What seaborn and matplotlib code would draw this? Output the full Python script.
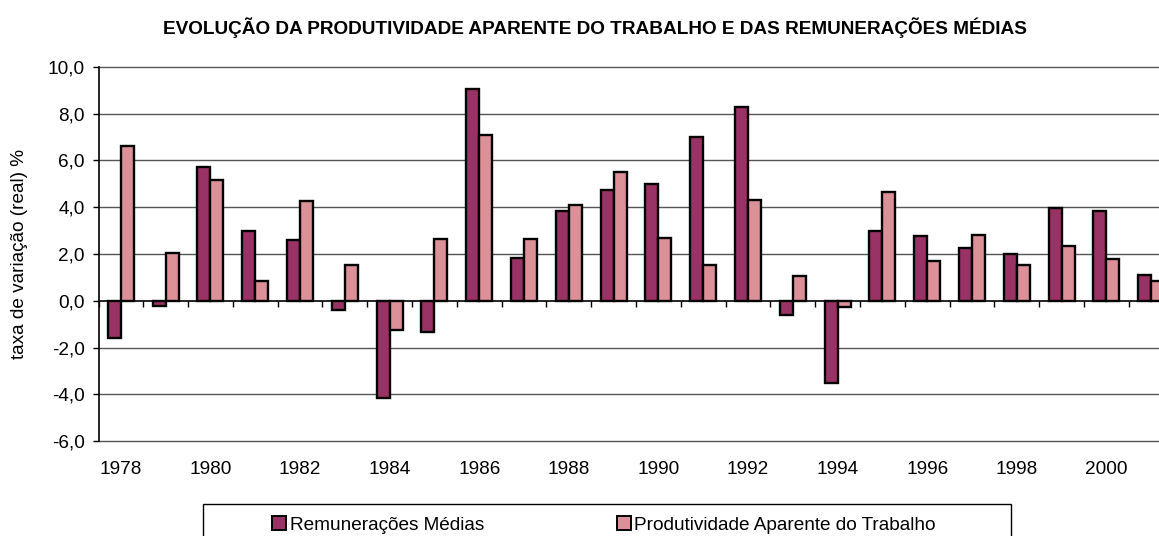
import numpy as np
import pandas as pd
import seaborn as sns
import matplotlib
matplotlib.use('Agg')
import matplotlib.pyplot as plt
from matplotlib.patches import Patch, Rectangle
from matplotlib.ticker import FuncFormatter

years = list(range(1978, 2002))
remuneracoes = [-1.6, -0.2, 5.7, 3.0, 2.6, -0.4, -4.15, -1.35, 9.05, 1.85, 3.85, 4.75,
                5.0, 7.0, 8.3, -0.6, -3.5, 3.0, 2.75, 2.25, 2.0, 3.95, 3.85, 1.1]
produtividade = [6.6, 2.05, 5.15, 0.85, 4.25, 1.55, -1.25, 2.65, 7.1, 2.65, 4.1, 5.5,
                 2.7, 1.55, 4.3, 1.05, -0.25, 4.65, 1.7, 2.8, 1.55, 2.35, 1.8, 0.85]
series_names = ['Remunerações Médias', 'Produtividade Aparente do Trabalho']
colors = ['#993366', '#DC9199']

df = pd.DataFrame({
    'ano': years * 2,
    'serie': [series_names[0]] * len(years) + [series_names[1]] * len(years),
    'valor': remuneracoes + produtividade,
})

sns.set_style('white')
plt.rcParams['font.family'] = ['Liberation Sans', 'DejaVu Sans']
for k in ['text.color', 'axes.labelcolor', 'xtick.color', 'ytick.color']:
    plt.rcParams[k] = 'black'

FS = 13.7
W, H = 1159, 536
fig = plt.figure(figsize=(W / 100, H / 100), dpi=100)
# plot area runs past the right edge, as in the original export
ax = fig.add_axes([98.5 / W, 1 - 441.3 / H, 1075 / W, (441.3 - 66.7) / H])

sns.barplot(data=df, x='ano', y='valor', hue='serie', palette=colors, width=0.58,
            saturation=1, edgecolor='black', linewidth=1.7, legend=False, ax=ax, zorder=3)

ax.set_xlim(-0.5, len(years) - 0.5)
ax.set_ylim(-6, 10)
ax.set_yticks(np.arange(-6, 11, 2))
ax.yaxis.set_major_formatter(FuncFormatter(lambda v, p: f'{v:.1f}'.replace('.', ',')))
for v in np.arange(-6, 11, 2):
    if v != 0:
        ax.axhline(v, color='#555555', lw=1.0, zorder=1, clip_on=False)

ax.set_xticks(range(0, len(years), 2))
ax.set_xticklabels([str(y) for y in years[::2]])
ax.tick_params(axis='x', length=0, pad=14, labelsize=FS)
ax.tick_params(axis='y', direction='out', length=4, width=1, pad=6, labelsize=FS, left=True)
ax.set_xlabel('')
ax.set_ylabel('taxa de variação (real) %', fontsize=FS)
ax.yaxis.set_label_coords(-0.066, 0.5)

for s in ['top', 'right', 'bottom']:
    ax.spines[s].set_visible(False)
ax.spines['left'].set_color('black')
ax.spines['left'].set_linewidth(1.2)

# zero axis line with category tick marks
sec = ax.secondary_xaxis(6 / 16)
sec.set_xticks(np.arange(-0.5, len(years), 1))
sec.tick_params(direction='out', length=4, width=1, labelbottom=False, labeltop=False)
sec.spines['bottom'].set_color('black')
sec.spines['bottom'].set_linewidth(1.2)

fig.text(595 / W, 1 - 28 / H, 'EVOLUÇÃO DA PRODUTIVIDADE APARENTE DO TRABALHO E DAS REMUNERAÇÕES MÉDIAS',
         ha='center', va='center', fontsize=FS, fontweight='bold')

fig.patches.append(Rectangle((203 / W, -0.05), 808 / W, (H - 504) / H + 0.05,
                             transform=fig.transFigure, fill=False, ec='black', lw=1))
handles = [Patch(facecolor=c, edgecolor='black', linewidth=1.4) for c in colors]
fig.legend(handles, series_names, ncol=2, frameon=False, loc='center left',
           bbox_to_anchor=(272 / W, 1 - 525 / H), borderpad=0, borderaxespad=0,
           handlelength=0.72, handleheight=0.72, handletextpad=0.2,
           columnspacing=7.0, fontsize=FS)

fig.savefig('out.png', dpi=100)
